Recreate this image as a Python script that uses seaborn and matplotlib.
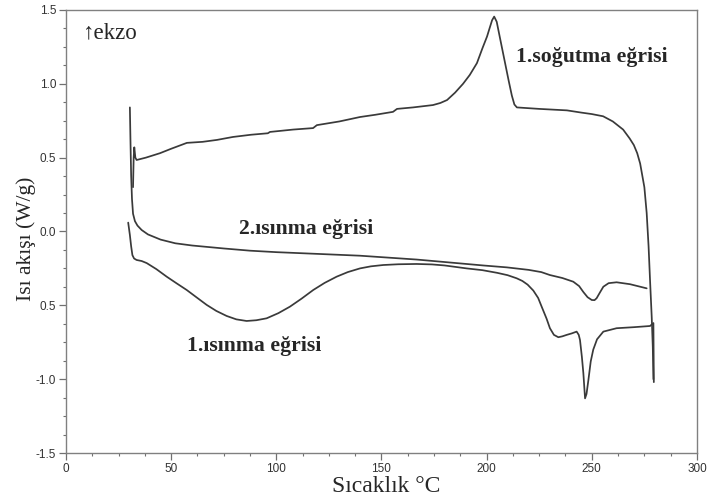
import matplotlib
matplotlib.use("Agg")
import matplotlib.pyplot as plt
from matplotlib.ticker import MultipleLocator, FixedLocator, FixedFormatter
import seaborn as sns
import pandas as pd

# DSC thermogram: heat flow (W/g) vs temperature (°C)

# 1st cooling run (from 280 °C down to 30 °C)
cool_t = [279.3, 279.0, 278.5, 277.7, 277.0, 276.1, 275.0, 273.0, 271.6, 270.0, 268.0,
          264.9, 260.0, 255.4, 250.0, 245.0, 238.2, 225.0, 214.4, 213.2, 212.0, 210.5,
          208.5, 206.5, 204.8, 203.6, 202.6, 201.5, 200.2, 198.0, 195.4, 192.0, 188.8,
          185.0, 181.2, 178.0, 174.5, 165.0, 157.4, 155.5, 147.0, 139.8, 130.0, 119.3,
          117.5, 108.0, 97.0, 96.0, 88.0, 79.4, 71.8, 65.0, 57.5, 50.0, 44.7, 38.0,
          33.6, 33.0, 32.5, 32.2, 31.9]
cool_q = [-1.00, -0.78, -0.58, -0.33, -0.10, 0.125, 0.30, 0.46, 0.53, 0.585, 0.63,
          0.69, 0.745, 0.78, 0.795, 0.805, 0.82, 0.83, 0.84, 0.86, 0.92, 1.02,
          1.16, 1.30, 1.42, 1.455, 1.43, 1.38, 1.32, 1.24, 1.14, 1.06, 1.00,
          0.94, 0.89, 0.87, 0.856, 0.84, 0.83, 0.81, 0.79, 0.775, 0.745, 0.72,
          0.70, 0.69, 0.674, 0.665, 0.655, 0.64, 0.62, 0.607, 0.60, 0.56, 0.53, 0.50,
          0.484, 0.50, 0.57, 0.50, 0.30]

# 1st heating run
heat1_t = [29.6, 30.4, 31.0, 31.6, 32.4, 33.6, 36.0, 38.4, 43.0, 47.9, 52.5, 57.4,
           62.0, 66.9, 71.5, 76.4, 81.0, 85.9, 90.5, 95.4, 101.0, 106.5, 112.0, 117.6,
           123.0, 128.7, 134.0, 139.8, 145.0, 150.9, 158.0, 166.7, 174.0, 180.0, 190.5,
           198.0, 205.0, 210.0, 214.3, 217.0, 219.5, 222.2, 224.5, 226.2, 228.5, 230.1,
           232.0, 234.1, 236.0, 238.1, 240.5, 242.8, 243.8, 244.4, 245.3, 246.0, 246.8,
           247.5, 248.4, 249.5, 250.7, 252.5, 255.5, 261.8, 270.0, 277.7, 279.3, 279.5]
heat1_q = [0.06, -0.024, -0.10, -0.16, -0.183, -0.193, -0.20, -0.214, -0.255, -0.306,
           -0.35, -0.396, -0.445, -0.497, -0.538, -0.572, -0.595, -0.606, -0.601, -0.588,
           -0.553, -0.509, -0.455, -0.396, -0.348, -0.306, -0.275, -0.25, -0.236, -0.227,
           -0.222, -0.22, -0.223, -0.23, -0.25, -0.262, -0.28, -0.296, -0.317, -0.335,
           -0.36, -0.40, -0.45, -0.51, -0.59, -0.655, -0.70, -0.716, -0.71, -0.70, -0.69,
           -0.678, -0.70, -0.735, -0.85, -0.96, -1.13, -1.10, -1.005, -0.88, -0.80, -0.73,
           -0.678, -0.655, -0.648, -0.64, -0.62, -1.02]

# 2nd heating run
heat2_t = [30.4, 30.7, 31.0, 31.4, 31.9, 32.8, 34.0, 36.0, 39.0, 45.0, 52.0, 60.0,
           75.0, 87.5, 100.0, 120.0, 139.8, 166.7, 177.8, 198.3, 209.6, 220.0, 226.0,
           230.1, 236.0, 241.2, 244.0, 246.0, 248.0, 250.0, 251.3, 252.3, 254.0, 255.5,
           258.0, 261.8, 268.2, 276.1]
heat2_q = [0.84, 0.60, 0.38, 0.22, 0.12, 0.07, 0.04, 0.01, -0.02, -0.055, -0.08,
           -0.095, -0.115, -0.13, -0.14, -0.152, -0.164, -0.19, -0.204, -0.23, -0.243,
           -0.26, -0.275, -0.295, -0.315, -0.34, -0.37, -0.41, -0.445, -0.464, -0.465,
           -0.452, -0.41, -0.374, -0.35, -0.344, -0.357, -0.385]

y_ticks = [-1.5, -1.0, -0.5, 0.0, 0.5, 1.0, 1.5]
y_tick_labels = ["-1.5", "-1.0", "0.5", "0.0", "0.5", "1.0", "1.5"]
x_ticks = [0, 50, 100, 150, 200, 250, 300]

sns.set_style("ticks")
plt.rcParams["font.family"] = ["Liberation Sans", "DejaVu Sans"]

fig = plt.figure(figsize=(7.09, 4.97), dpi=100)
ax = fig.add_axes([0.093, 0.0885, 0.890, 0.8915])

line_color = "#3a3a3a"
for t, q in [(cool_t, cool_q), (heat1_t, heat1_q), (heat2_t, heat2_q)]:
    df = pd.DataFrame({"T": t, "Q": q})
    sns.lineplot(data=df, x="T", y="Q", sort=False, estimator=None,
                 color=line_color, linewidth=1.25, ax=ax)

ax.set_xlim(0, 300)
ax.set_ylim(-1.5, 1.5)
ax.xaxis.set_major_locator(FixedLocator(x_ticks))
ax.xaxis.set_minor_locator(MultipleLocator(12.5))
ax.yaxis.set_major_locator(FixedLocator(y_ticks))
ax.yaxis.set_major_formatter(FixedFormatter(y_tick_labels))
ax.yaxis.set_minor_locator(MultipleLocator(0.125))

ax.tick_params(which="major", direction="out", length=5, width=0.9,
               color="#707070", labelsize=8.5, labelcolor="#333333", pad=2)
ax.tick_params(which="minor", direction="out", length=2.5, width=0.8, color="#707070")
for s in ax.spines.values():
    s.set_color("#808080")
    s.set_linewidth(1.0)

serif = ["Liberation Serif", "DejaVu Serif"]
ax.set_xlabel("Sıcaklık °C", family=serif, fontsize=17, labelpad=0)
ax.xaxis.set_label_coords(0.508, -0.052, transform=ax.transAxes)
ax.xaxis.label.set_va("top")
ax.set_ylabel("Isı akışı (W/g)", family=serif, fontsize=15.5, labelpad=4)
ax.yaxis.set_label_coords(-0.047, 0.483, transform=ax.transAxes)

ax.text(8.1, 1.345, "↑ekzo", family=serif, fontsize=16.5, ha="left", va="center")
ax.text(250, 1.18, "1.soğutma eğrisi", family=serif, fontsize=15.7,
        fontweight="bold", ha="center", va="center")
ax.text(114, 0.017, "2.ısınma eğrisi", family=serif, fontsize=15.7,
        fontweight="bold", ha="center", va="center")
ax.text(89.4, -0.775, "1.ısınma eğrisi", family=serif, fontsize=15.7,
        fontweight="bold", ha="center", va="center")

fig.savefig("out.png", dpi=100)
